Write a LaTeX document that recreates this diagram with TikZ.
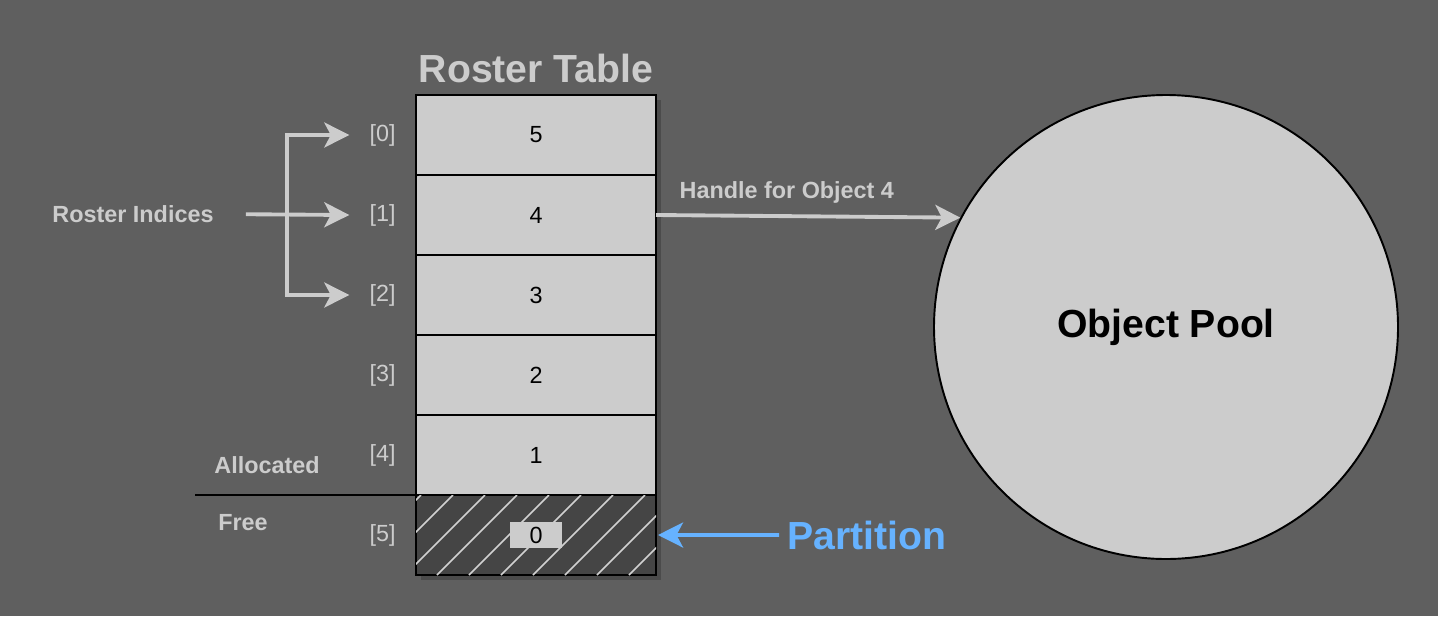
\documentclass[tikz,border=0pt]{standalone}
\usepackage{fontspec}
\setmainfont{Liberation Sans}
\usepackage{xcolor}
\usepackage{tikz}
\usetikzlibrary{arrows.meta,positioning,calc,backgrounds}
\definecolor{bggray}{HTML}{5F5F5F}
\definecolor{cellgray}{HTML}{CCCCCC}
\definecolor{freegray}{HTML}{454545}
\definecolor{shadowgray}{HTML}{4B4B4B}
\definecolor{labelgray}{HTML}{CCCCCC}
\definecolor{partblue}{HTML}{66B2FF}
\newcommand{\bigfont}{\fontsize{22.3}{26}\selectfont\bfseries}
\newcommand{\smallfont}{\fontsize{13.3}{16}\selectfont}

\begin{document}
\begin{tikzpicture}[
  cellbox/.style={draw=black, line width=1.1pt, fill=cellgray, minimum width=4.8cm,
                  minimum height=1.6cm, inner sep=0pt, outer sep=0pt, font=\smallfont},
  freebox/.style={cellbox, fill=freegray},
  idxlabel/.style={text=labelgray, font=\smallfont, inner ysep=0pt, inner xsep=0.4cm},
  sidelabel/.style={text=labelgray, font=\smallfont\bfseries, inner sep=0pt},
  arr/.style={-{Stealth[length=0.5cm, width=0.5cm, inset=0.13cm]}, line width=2.2pt, draw=labelgray},
  bluearr/.style={arr, draw=partblue},
  node distance=0pt
]
\useasboundingbox (0,0) rectangle (28.76,-12.32);

%% Roster table rows
\node[cellbox] (r0) at (10.72,-2.7) {5};
\node[cellbox, below=of r0] (r1) {4};
\node[cellbox, below=of r1] (r2) {3};
\node[cellbox, below=of r2] (r3) {2};
\node[cellbox, below=of r3] (r4) {1};
\node[freebox, below=of r4] (r5) {};

%% Hatching of the free slot
\begin{scope}
  \clip (r5.south west) rectangle (r5.north east);
  \foreach \k in {-3,...,7}
    \draw[cellgray!90!white, line width=0.9pt] (8.74+0.64*\k,-11.5) -- ++(1.6,1.6);
\end{scope}
\node[fill=cellgray, minimum width=1.04cm, minimum height=0.52cm, inner sep=0pt,
      font=\smallfont] (zero) at (r5) {0};

%% Background and shadow
\begin{scope}[on background layer]
  \fill[bggray] (0,0) rectangle (28.76,-12.32);
  \fill[shadowgray] ($(r0.north west)+(0.09,-0.09)$) rectangle ($(r5.south east)+(0.09,-0.09)$);
\end{scope}

%% Title
\node[text=labelgray, font=\bigfont, above=0.12cm of r0] (title) {Roster Table};

%% Indices
\node[idxlabel, left=of r0] (i0) {[0]};
\node[idxlabel, left=of r1] (i1) {[1]};
\node[idxlabel, left=of r2] (i2) {[2]};
\node[idxlabel, left=of r3] (i3) {[3]};
\node[idxlabel, left=of r4] (i4) {[4]};
\node[idxlabel, left=of r5] (i5) {[5]};

%% Roster indices arrows
\node[sidelabel] (ri) at (2.66,-4.28) {Roster Indices};
\coordinate (fork) at (5.74,-4.28);
\draw[arr, shorten <=0.64cm] (ri.east) -- (i1.west);
\draw[arr] (fork) |- (i0.west);
\draw[arr] (fork) |- (i2.west);

%% Allocated / free split
\node[sidelabel] (alloc) at (5.34,-9.3) {Allocated};
\node[sidelabel] (free) at (4.86,-10.46) {Free};
\coordinate (splitend) at (3.9,-9.9);
\draw[black, line width=1.1pt] (splitend) -- (r5.north west);

%% Object pool
\node[circle, draw=black, line width=1.1pt, fill=cellgray, minimum size=9.28cm,
      font=\bigfont] (pool) at (23.32,-6.54) {Object Pool};
\draw[arr] (r1.east) -- node[pos=0.43, above=0.22cm, sidelabel] (handle) {Handle for Object 4}
  (pool.152);

%% Partition
\node[text=partblue, font=\bigfont, inner sep=0pt] (part) at (17.34,-10.7) {Partition};
\draw[bluearr, shorten <=0.16cm] (part.west) -- ($(r5.east)+(0.04,0)$);

\end{tikzpicture}
\end{document}
